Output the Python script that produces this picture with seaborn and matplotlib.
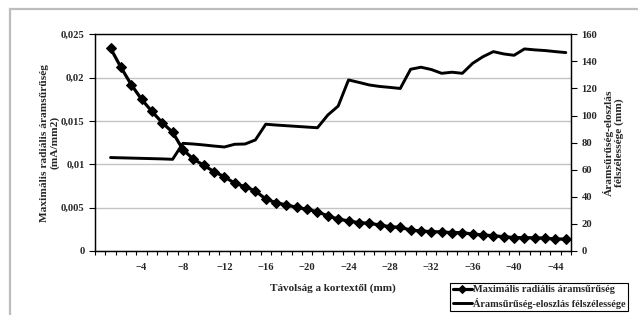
import pandas as pd
import matplotlib
matplotlib.use("Agg")
import matplotlib.pyplot as plt
import seaborn as sns
import numpy as np
from matplotlib.ticker import FixedLocator, FuncFormatter
from matplotlib.patches import Rectangle

# distance from the cortex (mm), -1 ... -45
tavolsag = list(range(-1, -46, -1))

# maximal radial current density (mA/mm2)
suruseg = [0.0234, 0.0212, 0.0192, 0.0175, 0.0161, 0.0148, 0.0137, 0.0117, 0.0106, 0.0099,
           0.00915, 0.00857, 0.00781, 0.00742, 0.00692, 0.0060, 0.00557, 0.0053, 0.00504, 0.0048,
           0.00453, 0.00404, 0.00369, 0.00346, 0.00327, 0.0032, 0.0030, 0.0028, 0.00273, 0.00242,
           0.00231, 0.00223, 0.0022, 0.00212, 0.00212, 0.00195, 0.00185, 0.00176, 0.00165, 0.00155,
           0.00153, 0.00153, 0.00148, 0.00138, 0.00138]

# half width of the current density distribution (mm)
felszelesseg = [69, 68.8, 68.6, 68.4, 68.2, 68.0, 67.7, 79.5, 79, 78.3,
                77.5, 76.8, 78.8, 79, 82, 93.6, 93, 92.5, 92, 91.5,
                91, 100.4, 107, 126.3, 124.5, 122.6, 121.5, 120.8, 120, 134.2,
                135.7, 134, 131.2, 132, 131.2, 138.6, 143.5, 147.2, 145.5, 144.5,
                149.2, 148.5, 148, 147.2, 146.5]

xticks = list(range(-4, -45, -4))
label1 = "Maximális radiális áramsűrűség"
label2 = "Áramsűrűség-eloszlás félszélessége"

df = pd.DataFrame({"x": tavolsag, "suruseg": suruseg, "felsz": felszelesseg})

sns.set_style("white")
plt.rcParams["font.family"] = ["Liberation Serif", "DejaVu Serif"]
plt.rcParams["font.weight"] = "bold"
fs = 7.6

fig = plt.figure(figsize=(6.38, 3.15), dpi=100)
fig.add_artist(Rectangle((10 / 638, -0.05), 1.1, 1 - 9 / 315 + 0.05, transform=fig.transFigure,
                         fill=False, edgecolor="#bdbdbd", linewidth=1.6))
ax = fig.add_axes([95 / 638, 64 / 315, 476 / 638, 216.7 / 315])
ax2 = ax.twinx()

sns.lineplot(data=df, x="x", y="suruseg", ax=ax, color="black", linewidth=2.3,
             marker="D", markersize=5.5, markeredgecolor="black", label=label1, legend=False)
sns.lineplot(data=df, x="x", y="felsz", ax=ax2, color="black", linewidth=2.1,
             label=label2, legend=False)

ax.set_xlim(0.5, -45.5)
ax.set_ylim(0, 0.025)
ax2.set_ylim(0, 160)

ax.set_yticks(np.arange(0, 0.0251, 0.005))
ax.yaxis.set_major_formatter(FuncFormatter(lambda v, p: f"{v:g}".replace(".", ",")))
ax2.set_yticks(range(0, 161, 20))
ax.grid(axis="y", color="#c4c4c4", linewidth=1.0)
ax.set_axisbelow(True)

ax.xaxis.set_major_locator(FixedLocator(xticks))
ax.xaxis.set_minor_locator(FixedLocator(np.arange(0.5, -46, -1)))
ax.tick_params(axis="x", which="major", length=0, pad=9, labelsize=fs)
ax.tick_params(axis="x", which="minor", length=3, direction="out", color="black", width=0.8, bottom=True)
ax.tick_params(axis="y", length=4, direction="out", color="black", width=0.8, labelsize=fs, left=True)
ax2.tick_params(axis="y", length=4, direction="out", color="black", width=0.8, labelsize=fs, right=True)

for a in (ax, ax2):
    for s in a.spines.values():
        s.set_color("black")
        s.set_linewidth(0.9)
ax.spines["top"].set_color("#444444")

ax.set_xlabel("Távolság a kortextől (mm)", fontsize=8, fontweight="bold", labelpad=8)
ax.set_ylabel("Maximális radiális áramsűrűség\n(mA/mm2)", fontsize=8.2, fontweight="bold",
              labelpad=1, linespacing=1.05)
ax2.set_ylabel("Áramsűrűség-eloszlás\nfélszélessége (mm)", fontsize=8.2, fontweight="bold",
               labelpad=4, linespacing=1.05)

h1, l1 = ax.get_legend_handles_labels()
h2, l2 = ax2.get_legend_handles_labels()
leg = fig.legend(h1 + h2, l1 + l2, loc="upper left", bbox_to_anchor=(450 / 638, 1 - 282.7 / 315),
                 fontsize=7.4, frameon=True, fancybox=False, edgecolor="black", framealpha=1,
                 handlelength=1.9, handletextpad=0.1, labelspacing=0.3, borderpad=0.25,
                 borderaxespad=0, numpoints=1, markerscale=0.8)
leg.get_frame().set_linewidth(0.8)

fig.savefig("out.png", dpi=100)
